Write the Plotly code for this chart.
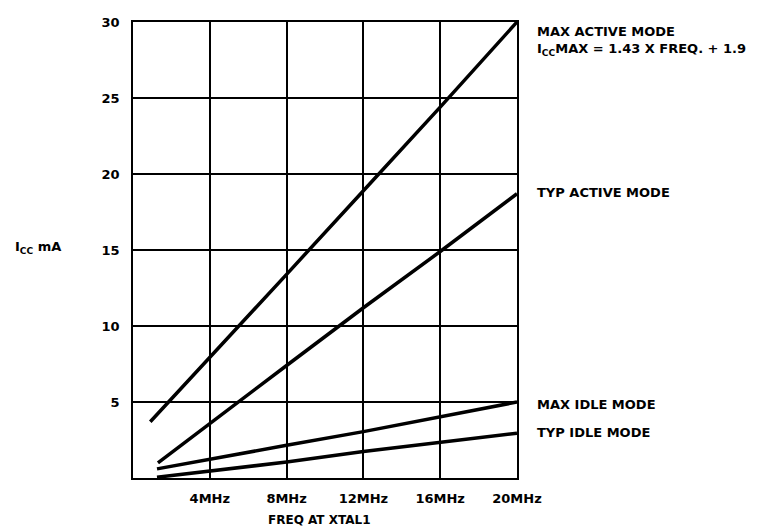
import plotly.graph_objects as go

# Data
max_active_x = [0.9, 4, 8, 12, 16, 20]
max_active_y = [3.7, 7.9, 13.4, 18.9, 24.4, 30.0]
typ_active_x = [1.3, 4, 8, 12, 16, 20]
typ_active_y = [1.0, 3.6, 7.4, 11.2, 14.9, 18.7]
max_idle_x = [1.25, 4, 8, 12, 16, 20]
max_idle_y = [0.6, 1.25, 2.15, 3.05, 4.0, 5.0]
typ_idle_x = [1.25, 4, 8, 12, 16, 20]
typ_idle_y = [0.05, 0.45, 1.05, 1.75, 2.35, 2.95]

x_tick_vals = [4, 8, 12, 16, 20]
x_tick_text = ["4MHz", "8MHz", "12MHz", "16MHz", "20MHz"]
y_tick_vals = [5, 10, 15, 20, 25, 30]

series = [
    ("MAX ACTIVE MODE", max_active_x, max_active_y),
    ("TYP ACTIVE MODE", typ_active_x, typ_active_y),
    ("MAX IDLE MODE", max_idle_x, max_idle_y),
    ("TYP IDLE MODE", typ_idle_x, typ_idle_y),
]

FONT = "DejaVu Sans"
fig = go.Figure()
for name, xs, ys in series:
    fig.add_trace(go.Scatter(x=xs, y=ys, mode="lines", name=name,
                             line=dict(color="black", width=3.5),
                             showlegend=False, hoverinfo="skip"))

# page body has an 8px margin; figure is sized to fit the 760x532 window
PL, PT, PW, PH = 133, 15, 384, 463  # plot area in window pixels
W, H = 752, 524

fig.update_layout(
    width=W, height=H,
    margin=dict(l=PL - 8, r=W - (PL - 8) - PW, t=PT - 8, b=H - (PT - 8) - PH),
    paper_bgcolor="white", plot_bgcolor="white",
    font=dict(family=FONT, color="black", size=13, weight="bold"),
    xaxis=dict(range=[0, 20], tickvals=x_tick_vals, ticktext=x_tick_text,
               showgrid=True, gridcolor="black", gridwidth=1.5,
               showline=True, linecolor="black", linewidth=1.8, mirror=True,
               zeroline=False, ticks="", ticklabelstandoff=7,
               tickfont=dict(family=FONT, size=13, weight="bold")),
    yaxis=dict(range=[0, 30], tickvals=y_tick_vals,
               showgrid=True, gridcolor="black", gridwidth=1.5,
               showline=True, linecolor="black", linewidth=1.8, mirror=True,
               zeroline=False, ticks="", ticklabelstandoff=9,
               tickfont=dict(family=FONT, size=13, weight="bold")),
)


def px2paper(px, py):
    return (px - PL) / PW, 1 - (py - PT) / PH


ann_font = dict(family=FONT, size=13, color="black", weight="bold")
right_labels = [
    ("MAX ACTIVE MODE", 24.5),
    ("I<sub>CC</sub>MAX = 1.43 X FREQ. + 1.9", 43),
    ("TYP ACTIVE MODE", 188),
    ("MAX IDLE MODE", 403),
    ("TYP IDLE MODE", 432),
]
for text, ypix in right_labels:
    x, y = px2paper(535, ypix)
    fig.add_annotation(text=text, xref="paper", yref="paper",
                       x=x, xanchor="left", y=y, yanchor="middle",
                       showarrow=False, font=ann_font)

x, y = px2paper(319, 521)
fig.add_annotation(text="FREQ AT XTAL1", xref="paper", yref="paper",
                   x=x, xanchor="center", y=y, yanchor="middle",
                   showarrow=False, font=dict(family=FONT, size=12, color="black", weight="bold"))
x, y = px2paper(13, 244)
fig.add_annotation(text="I<sub>CC</sub> mA", xref="paper", yref="paper",
                   x=x, xanchor="left", y=y, yanchor="middle",
                   showarrow=False, font=ann_font)

fig.write_html("out.html")
